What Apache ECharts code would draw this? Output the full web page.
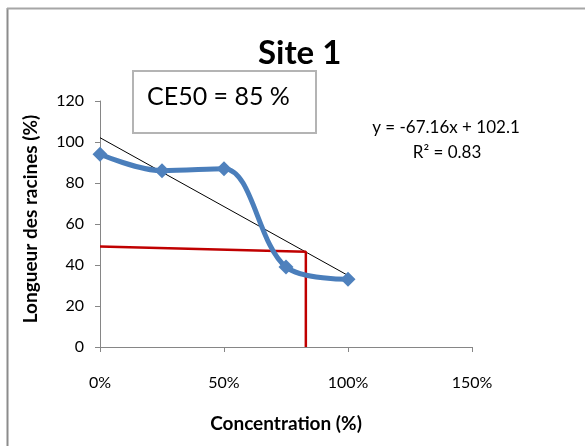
<!DOCTYPE html>
<html>
<head>
<meta charset="utf-8">
<script src="https://cdn.jsdelivr.net/npm/echarts@6/dist/echarts.min.js"></script>
<style>
html,body{margin:0;padding:0;background:#fff;}
#chart{width:585px;height:446px;}
</style>
</head>
<body>
<div id="chart"></div>
<script>
// Data
const concentrations = [0, 0.25, 0.5, 0.75, 1.0];
const rootLength = [94, 86, 87, 39, 33];
const trendX = [0, 1];
const trendY = [102.1, 34.9];
const ce50X = [0, 0.83, 0.83];
const ce50Y = [49, 46.5, 0];
const xTicks = [0, 0.5, 1, 1.5];
const yTicks = [0, 20, 40, 60, 80, 100, 120];
const titleText = 'Site 1';
const ce50Text = 'CE50 = 85 %';
const eqText = 'y = -67.16x + 102.1';
const r2Text = 'R² = 0.83';
const xName = 'Concentration (%)';
const yName = 'Longueur des racines (%)';

const FONT = 'Lato';
const zip = (xs, ys) => xs.map((x, i) => [x, ys[i]]);

const chart = echarts.init(document.getElementById('chart'));
chart.setOption({
  backgroundColor: '#fff',
  animation: false,
  title: {
    text: titleText, left: 253, top: 32,
    textStyle: { fontFamily: FONT, fontWeight: 'bold', fontSize: 33, color: '#000' }
  },
  grid: { left: 100, right: 113, top: 101, bottom: 99 },
  xAxis: {
    type: 'value', min: xTicks[0], max: xTicks[xTicks.length - 1], interval: 0.5,
    name: xName, nameLocation: 'middle', nameGap: 67,
    nameTextStyle: { fontFamily: FONT, fontWeight: 'bold', fontSize: 19, color: '#000' },
    axisLine: { lineStyle: { color: '#868686', width: 1 } },
    axisTick: { show: true, length: 5, lineStyle: { color: '#868686' } },
    splitLine: { show: false },
    axisLabel: {
      margin: 28, fontFamily: FONT, fontSize: 16, color: '#000',
      formatter: v => Math.round(v * 100) + '%'
    }
  },
  yAxis: {
    type: 'value', min: yTicks[0], max: yTicks[yTicks.length - 1], interval: 20,
    name: yName, nameLocation: 'middle', nameGap: 60, nameRotate: 90,
    nameTextStyle: { fontFamily: FONT, fontWeight: 'bold', fontSize: 19, color: '#000', padding: [0, 0, 0, 10] },
    axisLine: { show: true, lineStyle: { color: '#868686', width: 1 } },
    axisTick: { show: true, length: 5, lineStyle: { color: '#868686' } },
    splitLine: { show: false },
    axisLabel: { margin: 16, fontFamily: FONT, fontSize: 16, color: '#000' }
  },
  series: [
    {
      type: 'line', data: zip(trendX, trendY), symbol: 'none',
      lineStyle: { color: '#000', width: 1 }, z: 3
    },
    {
      type: 'line', data: zip(ce50X, ce50Y), symbol: 'none',
      lineStyle: { color: '#c00000', width: 2.5 }, z: 4
    },
    {
      type: 'line', data: zip(concentrations, rootLength), smooth: 0.35,
      symbol: 'diamond', symbolSize: 15,
      itemStyle: { color: '#4F81BD' },
      lineStyle: { color: '#4A7EBB', width: 5 }, z: 5
    }
  ],
  graphic: [
    { type: 'line', shape: { x1: 7.5, y1: 8, x2: 7.5, y2: 446 }, style: { stroke: '#8c8c8c', lineWidth: 2 } },
    { type: 'line', shape: { x1: 7, y1: 8.5, x2: 585, y2: 8.5 }, style: { stroke: '#a6a6a6', lineWidth: 2 } },
    { type: 'rect', shape: { x: 133, y: 71, width: 183, height: 62 }, style: { fill: '#fff', stroke: '#b4b4b4', lineWidth: 2 }, z: 10 },
    { type: 'text', x: 147, y: 97, style: { text: ce50Text, font: '25px Lato', fill: '#000', textVerticalAlign: 'middle' }, z: 11 },
    { type: 'text', x: 446, y: 128, style: { text: eqText, font: '17px Lato', fill: '#000', textAlign: 'center', textVerticalAlign: 'middle' }, z: 11 },
    { type: 'text', x: 447, y: 153, style: { text: r2Text, font: '17px Lato', fill: '#000', textAlign: 'center', textVerticalAlign: 'middle' }, z: 11 }
  ]
});
</script>
</body>
</html>
